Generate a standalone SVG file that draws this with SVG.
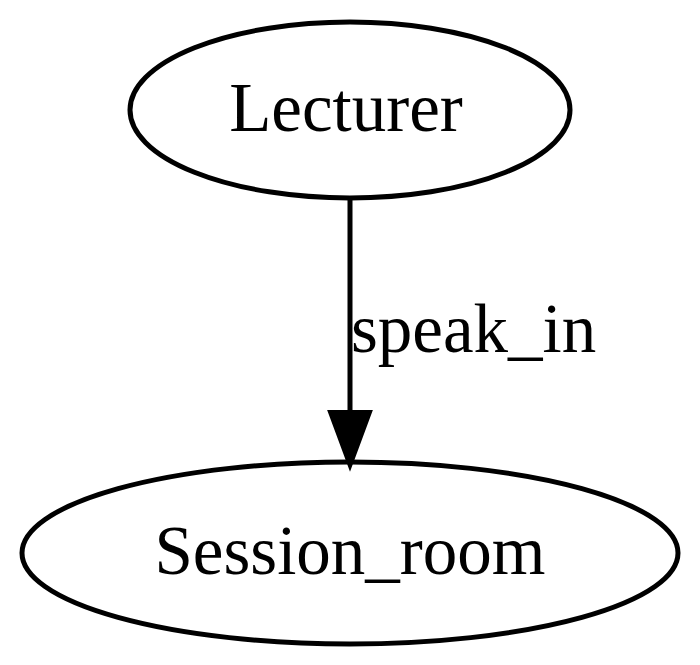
<svg xmlns="http://www.w3.org/2000/svg" width="700" height="665" viewBox="0 0 700 665">
<style>
.node ellipse{fill:none;stroke:#000;stroke-width:5}
text{font-family:"Liberation Serif","Times New Roman",serif;font-size:69px;fill:#000}
.edge line{stroke:#000;stroke-width:5}
</style>
<rect width="700" height="665" fill="#fff"/>
<g id="node-lecturer" class="node">
<ellipse cx="350" cy="110" rx="220" ry="88"/>
<text x="346" y="131" text-anchor="middle">Lecturer</text>
</g>
<g id="node-session_room" class="node">
<ellipse cx="350" cy="553" rx="328" ry="91"/>
<text x="350" y="574" text-anchor="middle">Session_room</text>
</g>
<g id="connectors" class="edge">
<line x1="350" y1="198" x2="350" y2="414"/>
<polygon points="330,412 370,412 350,466" fill="#000" stroke="#000" stroke-width="4"/>
<text x="351" y="352">speak_in</text>
</g>
</svg>
